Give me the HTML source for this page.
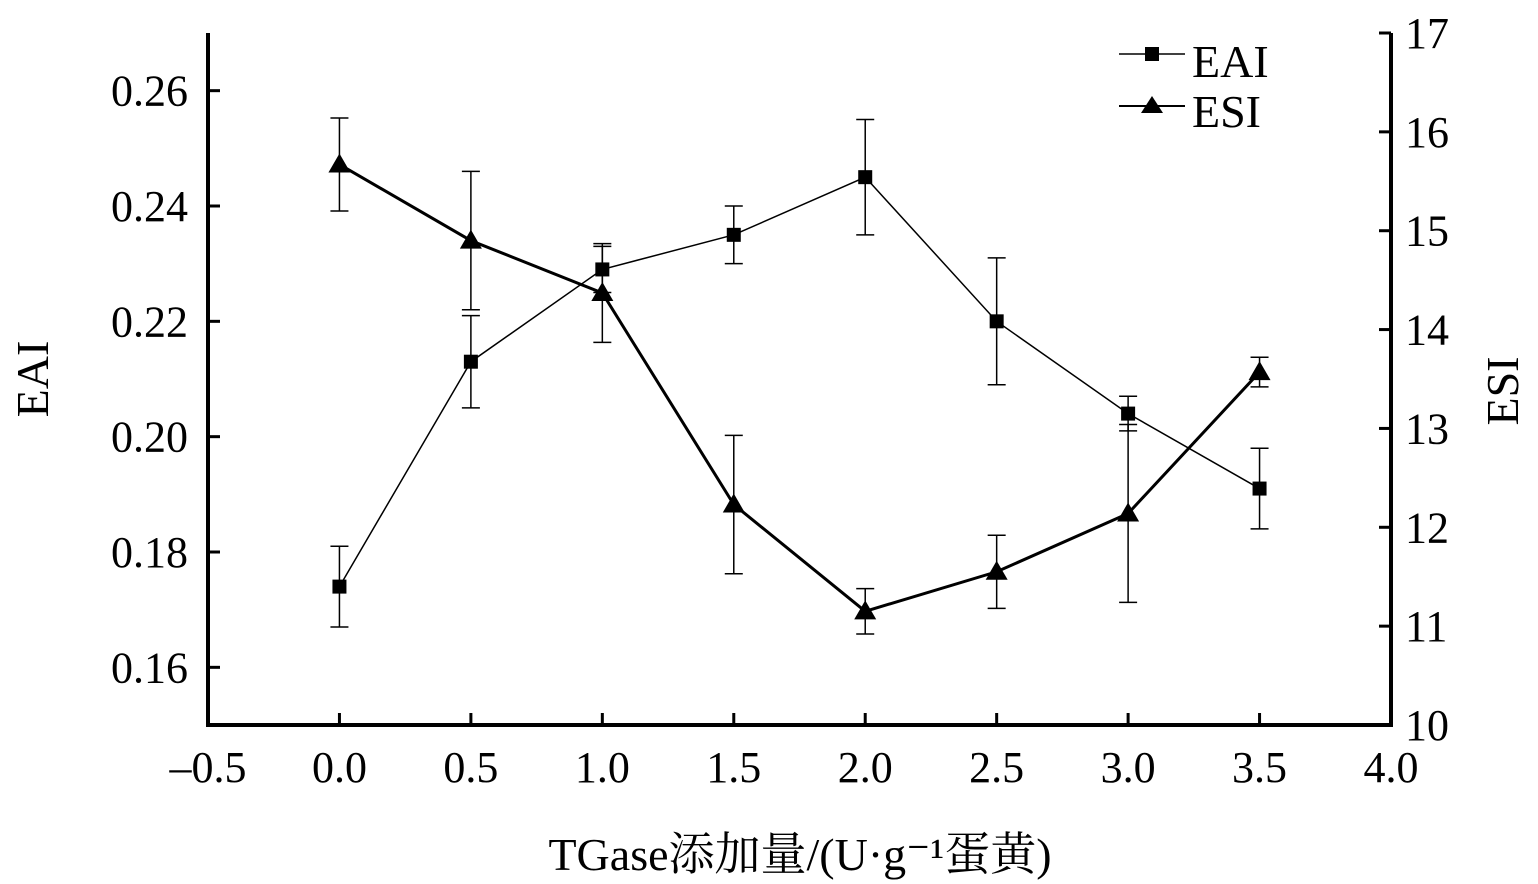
<!DOCTYPE html>
<html><head><meta charset="utf-8"><style>
body{margin:0;background:#fff;}
svg{display:block;font-family:"Liberation Serif","Noto Serif CJK SC",serif;}
</style></head><body>
<svg id="chart" width="1538" height="884"></svg>
<script>
const xValues=[0,0.5,1.0,1.5,2.0,2.5,3.0,3.5];
const eai=[0.174,0.213,0.229,0.235,0.245,0.220,0.204,0.191];
const eaiErr=[0.007,0.008,0.004,0.005,0.010,0.011,0.003,0.007];
const esi=[15.67,14.90,14.37,12.23,11.15,11.55,12.14,13.57];
const esiErr=[0.47,0.70,0.50,0.70,0.23,0.37,0.90,0.15];
const xTicks=[-0.5,0,0.5,1.0,1.5,2.0,2.5,3.0,3.5,4.0];
const yLeftTicks=[0.16,0.18,0.20,0.22,0.24,0.26];
const yRightTicks=[10,11,12,13,14,15,16,17];
const L=208,R=1391,T=33,B=725;
const sx=v=>L+(v+0.5)/4.5*(R-L);
const syL=v=>B-(v-0.15)/0.12*(B-T);
const syR=v=>B-(v-10)/7*(B-T);
const svg=document.getElementById('chart');
const NS='http://www.w3.org/2000/svg';
function mk(tag,attrs,parent){const e=document.createElementNS(NS,tag);for(const k in attrs)e.setAttribute(k,attrs[k]);(parent||svg).appendChild(e);return e;}
function txt(s,x,y,size,anchor,parent){const t=mk('text',{x:x,y:y,'font-size':size,'text-anchor':anchor||'middle',fill:'#000'},parent);t.textContent=s;return t;}
const axes=mk('g',{});


mk('path',{d:`M${L},${T} V${B} H${R} V${T}`,fill:'none',stroke:'#000','stroke-width':4},axes);
xTicks.forEach(v=>{const x=sx(v);mk('line',{x1:x,x2:x,y1:B,y2:B-12,stroke:'#000','stroke-width':3},axes);
 const t=txt(v<0?'\u2013'+Math.abs(v).toFixed(1):v.toFixed(1),x,782,44);
 });
yLeftTicks.forEach(v=>{const y=syL(v);mk('line',{x1:L,x2:L+12,y1:y,y2:y,stroke:'#000','stroke-width':3},axes);
 const t=txt(v.toFixed(2),188,y+15,44,'end');
 });
yRightTicks.forEach(v=>{const y=syR(v);mk('line',{x1:R,x2:R-12,y1:y,y2:y,stroke:'#000','stroke-width':3},axes);
 const t=txt(String(v),1405,y+15,44,'start');
 });
const xt=txt('TGase添加量/(U·g⁻¹蛋黄)',800,870,46);

const yl=txt('EAI',0,0,46);yl.setAttribute('transform','translate(48,379) rotate(-90)');

const yr=txt('ESI',0,0,46);yr.setAttribute('transform','translate(1518,391) rotate(-90)');

// EAI series
const gE=mk('g',{});
mk('polyline',{points:xValues.map((x,i)=>sx(x)+','+syL(eai[i])).join(' '),fill:'none',stroke:'#000','stroke-width':1.5},gE);
xValues.forEach((x,i)=>{const cx=sx(x),y1=syL(eai[i]+eaiErr[i]),y2=syL(eai[i]-eaiErr[i]);
 mk('path',{d:`M${cx},${y1}V${y2}M${cx-9},${y1}H${cx+9}M${cx-9},${y2}H${cx+9}`,stroke:'#000','stroke-width':1.5,fill:'none'},gE);
 const p=mk('rect',{x:cx-7,y:syL(eai[i])-7,width:14,height:14,fill:'#000'},gE);
 });
// ESI series
const gS=mk('g',{});
mk('polyline',{points:xValues.map((x,i)=>sx(x)+','+syR(esi[i])).join(' '),fill:'none',stroke:'#000','stroke-width':3},gS);
xValues.forEach((x,i)=>{const cx=sx(x),y1=syR(esi[i]+esiErr[i]),y2=syR(esi[i]-esiErr[i]);
 mk('path',{d:`M${cx},${y1}V${y2}M${cx-9},${y1}H${cx+9}M${cx-9},${y2}H${cx+9}`,stroke:'#000','stroke-width':1.5,fill:'none'},gS);
 const cy=syR(esi[i]);
 const p=mk('polygon',{points:`${cx},${cy-11} ${cx-11},${cy+8} ${cx+11},${cy+8}`,fill:'#000'},gS);
 });
// legend
const lg=mk('g',{});
mk('line',{x1:1119,x2:1185,y1:54,y2:54,stroke:'#000','stroke-width':1.5},lg);
mk('rect',{x:1145,y:47,width:14,height:14,fill:'#000'},lg);
txt('EAI',1192,77,46,'start',lg);
mk('line',{x1:1119,x2:1185,y1:106,y2:106,stroke:'#000','stroke-width':2},lg);
mk('polygon',{points:'1152,96 1141,113 1163,113',fill:'#000'},lg);
txt('ESI',1192,127,46,'start',lg);
</script>
</body></html>
